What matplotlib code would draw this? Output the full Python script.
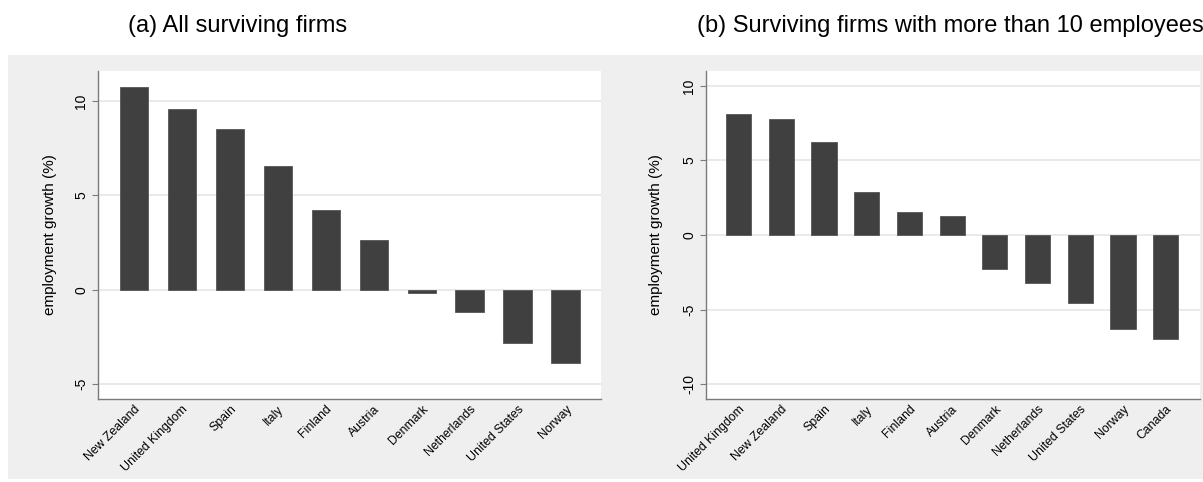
import matplotlib
matplotlib.use("Agg")
import matplotlib.pyplot as plt
from matplotlib.patches import Rectangle

plt.rcParams['font.family'] = ['Liberation Sans', 'DejaVu Sans']

# data
countries_a = ['New Zealand', 'United Kingdom', 'Spain', 'Italy', 'Finland',
               'Austria', 'Denmark', 'Netherlands', 'United States', 'Norway']
growth_a = [10.74, 9.61, 8.52, 6.55, 4.20, 2.65, -0.18, -1.19, -2.85, -3.89]

countries_b = ['United Kingdom', 'New Zealand', 'Spain', 'Italy', 'Finland',
               'Austria', 'Denmark', 'Netherlands', 'United States', 'Norway', 'Canada']
growth_b = [8.12, 7.76, 6.21, 2.91, 1.52, 1.30, -2.31, -3.20, -4.56, -6.31, -7.00]

ticks_a = [-5, 0, 5, 10]
ticks_b = [-10, -5, 0, 5, 10]

W, H = 1203, 482
fig = plt.figure(figsize=(W / 100, H / 100), dpi=100, facecolor='white')

# grey backdrop behind both panels
fig.patches.append(Rectangle((8 / W, 1 - 479 / H), (W - 8) / W, (479 - 55) / H,
                             transform=fig.transFigure, facecolor='#efefef',
                             edgecolor='none', zorder=-10))


def px_axes(l, t, r, b):
    return fig.add_axes([l / W, 1 - b / H, (r - l) / W, (b - t) / H])


def draw_panel(ax, names, vals, yticks, xlim, ylim):
    ax.set_facecolor('white')
    ax.bar(range(len(vals)), vals, width=0.59, color='#404040',
           edgecolor='#555555', linewidth=0.6, zorder=3)
    ax.set_xlim(*xlim)
    ax.set_ylim(*ylim)
    ax.set_yticks(yticks)
    ax.set_yticklabels([str(t) for t in yticks], rotation=90, va='center', fontsize=10)
    for t in yticks:
        ax.axhline(t, color='#eaeaea', lw=1.4, zorder=1)
    ax.set_xticks(range(len(names)))
    ax.set_xticklabels(names, rotation=45, ha='right', va='top',
                       rotation_mode='anchor', fontsize=8.8)
    ax.tick_params(axis='x', length=0, pad=3)
    ax.tick_params(axis='y', length=4, width=0.8, color='#7a7a7a', pad=3)
    for s in ['top', 'right']:
        ax.spines[s].set_visible(False)
    for s in ['left', 'bottom']:
        ax.spines[s].set_color('#7a7a7a')
        ax.spines[s].set_linewidth(1)


ax1 = px_axes(98, 71, 601, 399)
draw_panel(ax1, countries_a, growth_a, ticks_a, (-0.75, 9.74), (-5.8, 11.6))

ax2 = px_axes(706, 71, 1200, 399)
draw_panel(ax2, countries_b, growth_b, ticks_b, (-0.76, 10.8), (-11.0, 11.0))

# axis titles and panel titles
for x in [50, 656]:
    fig.text(x / W, 1 - 235 / H, 'employment growth (%)', rotation=90,
             ha='center', va='center', fontsize=11)

fig.text(128 / W, 1 - 26 / H, '(a) All surviving firms', ha='left', va='center', fontsize=17)
fig.text(697 / W, 1 - 26 / H, '(b) Surviving firms with more than 10 employees',
         ha='left', va='center', fontsize=17)

fig.savefig('out.png', dpi=100, facecolor='white')
